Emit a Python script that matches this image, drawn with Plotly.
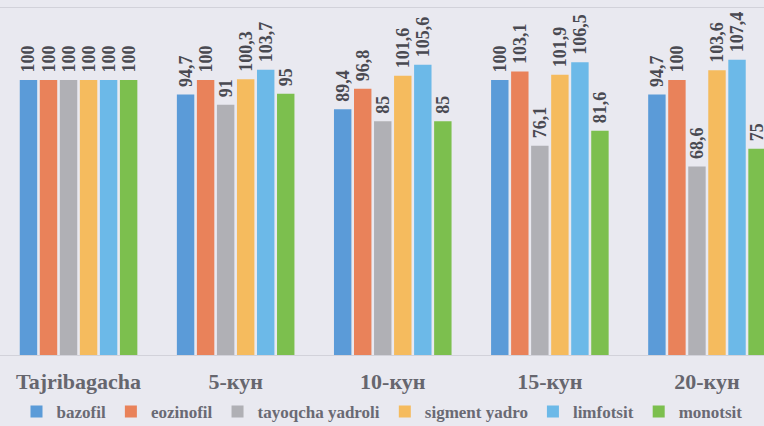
import plotly.graph_objects as go

categories = ["Tajribagacha", "5-кун", "10-кун", "15-кун", "20-кун"]
series_names = ["bazofil", "eozinofil", "tayoqcha yadroli", "sigment yadro", "limfotsit", "monotsit"]
bazofil = [100, 94.7, 89.4, 100, 94.7]
eozinofil = [100, 100, 96.8, 103.1, 100]
tayoqcha = [100, 91, 85, 76.1, 68.6]
sigment = [100, 100.3, 101.6, 101.9, 103.6]
limfotsit = [100, 103.7, 105.6, 106.5, 107.4]
monotsit = [100, 95, 85, 81.6, 75]
series_values = [bazofil, eozinofil, tayoqcha, sigment, limfotsit, monotsit]
colors = ["#5b9bd8", "#e9825a", "#b0b0b5", "#f5bb5e", "#6cb9e8", "#7cbf4e"]

def fmt(v):
    s = ("%.1f" % v).rstrip("0").rstrip(".")
    return s.replace(".", ",")

fig = go.Figure()
for name, vals, col in zip(series_names, series_values, colors):
    fig.add_trace(go.Bar(
        x=categories, y=vals, name=name, marker_color=col,
        marker_line_width=0,
        text=["\u00a0" + fmt(v) for v in vals], textposition="outside",
        textangle=-90, constraintext="none",
        textfont=dict(family="Liberation Serif", size=18, color="#4a4a52", weight="bold"),
        cliponaxis=True,
    ))

fig.update_layout(
    width=764, height=426,
    barmode="group", bargap=0.235, bargroupgap=0.13,
    paper_bgcolor="#e9e9f0", plot_bgcolor="#e9e9f0",
    margin=dict(l=0, r=0, t=8, b=71, autoexpand=False),
    legend=dict(orientation="h", x=0.5, xanchor="center", y=-0.112, yanchor="top",
                font=dict(family="Liberation Serif", size=17, color="#6a6a74", weight="bold"),
                itemwidth=30, traceorder="normal", tracegroupgap=0,
                itemsizing="constant"),
    font=dict(family="Liberation Serif"),
)
fig.update_xaxes(
    range=[-0.5, 4.363], showgrid=False, automargin=False,
    showline=True, linecolor="#d2d2da", linewidth=1, mirror=True,
    tickfont=dict(family="Liberation Serif", size=22, color="#66666e", weight="bold"),
    ticks="", ticklabelstandoff=7,
)
fig.update_yaxes(range=[0, 126.2], showgrid=False, showticklabels=False, zeroline=False,
                 showline=False, automargin=False)

fig.write_html("out.html", config={"displayModeBar": False},
               post_script="document.body.style.margin='0';")
